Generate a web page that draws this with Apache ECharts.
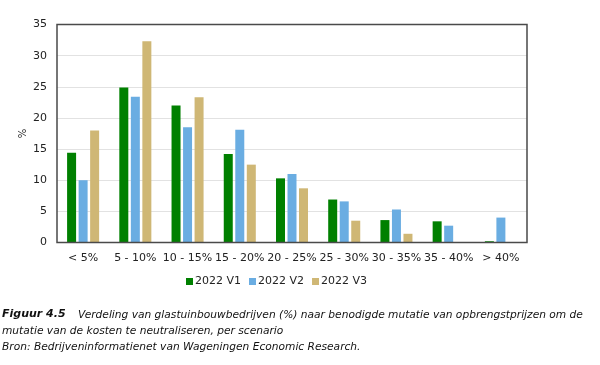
<!DOCTYPE html>
<html><head><meta charset="utf-8">
<script src="https://cdn.jsdelivr.net/npm/echarts@6/dist/echarts.min.js"></script>
<style>html,body{margin:0;padding:0;background:#fff}#c{width:600px;height:365px}</style>
</head><body><div id="c"></div>
<script>
const categories = ['< 5%', '5 - 10%', '10 - 15%', '15 - 20%', '20 - 25%', '25 - 30%', '30 - 35%', '35 - 40%', '> 40%'];
const v1 = [14.4, 24.9, 22.0, 14.2, 10.3, 6.9, 3.6, 3.4, 0.2];
const v2 = [10.0, 23.4, 18.5, 18.1, 11.0, 6.6, 5.3, 2.7, 4.0];
const v3 = [18.0, 32.3, 23.3, 12.5, 8.7, 3.5, 1.4, 0, 0];
const seriesNames = ['2022 V1', '2022 V2', '2022 V3'];
const yTicks = [0, 5, 10, 15, 20, 25, 30, 35];
const captionLines = [
  'Verdeling van glastuinbouwbedrijven (%) naar benodigde mutatie van opbrengstprijzen om de',
  'mutatie van de kosten te neutraliseren, per scenario',
  'Bron: Bedrijveninformatienet van Wageningen Economic Research.'
];
const colors = ['#008000', '#6aade2', '#cfb775'];
const font = 'Verdana, "DejaVu Sans", sans-serif';
const chart = echarts.init(document.getElementById('c'), null, {renderer: 'canvas'});
const data = [v1, v2, v3];
chart.setOption({
  animation: false,
  textStyle: {fontFamily: font},
  grid: {left: 57, right: 73, top: 24.5, bottom: 122.5, show: true, borderColor: '#4a4a4a', borderWidth: 1.5, containLabel: false, z: 10},
  xAxis: {
    type: 'category', data: categories,
    axisLine: {show: false}, axisTick: {show: false},
    axisLabel: {color: '#222', fontSize: 11, margin: 10, interval: 0, fontFamily: font}
  },
  yAxis: {
    type: 'value', min: yTicks[0], max: yTicks[yTicks.length - 1], interval: 5,
    name: '%', nameLocation: 'middle', nameGap: 29, nameRotate: 90, nameMoveOverlap: false,
    nameTextStyle: {color: '#222', fontSize: 10, fontFamily: font},
    axisLine: {show: false}, axisTick: {show: false},
    axisLabel: {color: '#222', fontSize: 11, margin: 10, fontFamily: font},
    splitLine: {showMinLine: false, showMaxLine: false, lineStyle: {color: '#e2e2e2', width: 1.2}}
  },
  legend: {
    top: 271, left: 181, itemWidth: 7, itemHeight: 7, itemGap: 8,
    icon: 'rect',
    textStyle: {color: '#222', fontSize: 11, fontFamily: font, padding: [0, 0, 0, -3]},
    data: seriesNames
  },
  series: seriesNames.map((n, i) => ({
    name: n, type: 'bar', data: data[i], barWidth: 9, barGap: '28%',
    itemStyle: {color: colors[i]}
  })),
  graphic: [
    {type: 'text', left: 2, top: 309, style: {text: 'Figuur 4.5', font: 'italic bold 11px ' + font, fill: '#111'}},
    {type: 'text', left: 78, top: 310, style: {text: captionLines[0], font: 'italic 10.65px ' + font, fill: '#111'}},
    {type: 'text', left: 2, top: 326, style: {text: captionLines[1], font: 'italic 10.65px ' + font, fill: '#111'}},
    {type: 'text', left: 2, top: 342, style: {text: captionLines[2], font: 'italic 10.65px ' + font, fill: '#111'}}
  ]
});
</script></body></html>
